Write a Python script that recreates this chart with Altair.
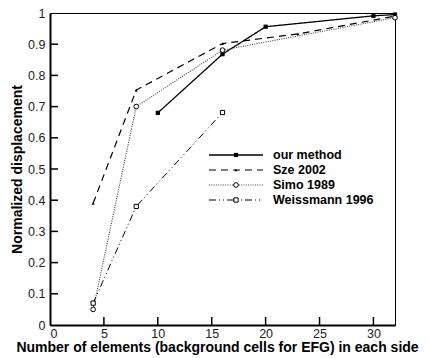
import altair as alt
import pandas as pd

# ---- data ----
our_x = [10, 16, 20, 30, 32]
our_y = [0.68, 0.868, 0.956, 0.991, 0.995]

sze_x = [4, 8, 16, 23, 32]
sze_y = [0.39, 0.753, 0.902, 0.933, 0.99]

simo_x = [4, 8, 16, 32]
simo_y = [0.05, 0.70, 0.881, 0.985]

weis_x = [4, 8, 16]
weis_y = [0.07, 0.38, 0.681]

series_names = ["our method", "Sze 2002", "Simo 1989", "Weissmann 1996"]
x_ticks = [0, 5, 10, 15, 20, 25, 30]
y_ticks = [0, 0.1, 0.2, 0.3, 0.4, 0.5, 0.6, 0.7, 0.8, 0.9, 1]

W, H = 345, 312
FONT = "Liberation Sans"

styles = {
    "our method": dict(dash=[1, 0], color="black", width=1.3, shape="square", filled=True, size=18),
    "Sze 2002": dict(dash=[7, 5], color="black", width=1.2, shape="triangle-up", filled=True, size=10),
    "Simo 1989": dict(dash=[1, 1.3], color="#444444", width=1.1, shape="circle", filled=False, size=22),
    "Weissmann 1996": dict(dash=[7, 3, 1, 3, 1, 3], color="black", width=1.0, shape="square", filled=False, size=18),
}

data = {
    "our method": (our_x, our_y),
    "Sze 2002": (sze_x, sze_y),
    "Simo 1989": (simo_x, simo_y),
    "Weissmann 1996": (weis_x, weis_y),
}

xs = alt.Scale(domain=[0, 32], nice=False, zero=False)
ys = alt.Scale(domain=[0, 1], nice=False, zero=False)

axis_common = dict(
    labelFont=FONT, labelFontSize=12.5, labelColor="#222",
    titleFont=FONT, titleFontSize=14, titleFontWeight="bold", titleColor="black",
    ticks=False, grid=False, domainColor="black", domainWidth=2,
)
X_AX = alt.Axis(values=x_ticks, title="Number of elements (background cells for EFG) in each side",
                labelPadding=2, titleX=167, titleY=15, titleAlign="center",
                titleBaseline="top", titleAnchor="start", **axis_common)
Y_AX = alt.Axis(values=y_ticks, format="~g", title="Normalized displacement",
                labelPadding=5, titleX=-33, titleY=H / 2, titleAlign="center",
                titleBaseline="middle", titleAngle=270, titleAnchor="start", **axis_common)

layers = []
for name in series_names:
    sx, sy = data[name]
    st = styles[name]
    df = pd.DataFrame({"x": sx, "y": sy})
    enc = dict(x=alt.X("x:Q", scale=xs, axis=X_AX), y=alt.Y("y:Q", scale=ys, axis=Y_AX))
    line = alt.Chart(df).mark_line(
        color=st["color"], strokeDash=st["dash"], strokeWidth=st["width"]
    ).encode(**enc)
    pts = alt.Chart(df).mark_point(
        shape=st["shape"], filled=st["filled"], size=st["size"],
        color="black", strokeWidth=1, opacity=1,
        fill="black" if st["filled"] else "white",
    ).encode(**enc)
    layers += [line, pts]

# inward ticks
xt = pd.DataFrame({"x": x_ticks[1:]})
yt = pd.DataFrame({"y": y_ticks[1:-1]})
layers.append(alt.Chart(xt).mark_rule(color="black", strokeWidth=1.5).encode(
    x=alt.X("x:Q", scale=xs, axis=X_AX), y=alt.value(H), y2=alt.value(H - 8)))
layers.append(alt.Chart(yt).mark_rule(color="black", strokeWidth=1.5).encode(
    y=alt.Y("y:Q", scale=ys, axis=Y_AX), x=alt.value(0), x2=alt.value(8)))

# legend (manual)
leg_y = [142, 157, 172, 187]
for i, name in enumerate(series_names):
    st = styles[name]
    ld = pd.DataFrame({"label": [name]})
    layers.append(alt.Chart(ld).mark_rule(
        color=st["color"], strokeDash=st["dash"], strokeWidth=st["width"]
    ).encode(y=alt.value(leg_y[i]), x=alt.value(159), x2=alt.value(213)))
    layers.append(alt.Chart(ld).mark_point(
        shape=st["shape"], filled=st["filled"], size=st["size"],
        color="black", strokeWidth=1, opacity=1,
        fill="black" if st["filled"] else "white",
    ).encode(y=alt.value(leg_y[i]), x=alt.value(186)))
    layers.append(alt.Chart(ld).mark_text(
        align="left", baseline="middle", font=FONT, fontSize=12.5, fontWeight="bold", color="black"
    ).encode(y=alt.value(leg_y[i]), x=alt.value(223), text="label:N"))

chart = alt.layer(*layers).properties(
    width=W, height=H,
    autosize=alt.AutoSizeParams(type="none"),
    padding={"left": 42, "top": 5, "right": 24, "bottom": 33},
    background="white",
).configure_view(stroke="black", strokeWidth=1)

chart.save("out.html", embed_options={"renderer": "svg", "actions": False})
